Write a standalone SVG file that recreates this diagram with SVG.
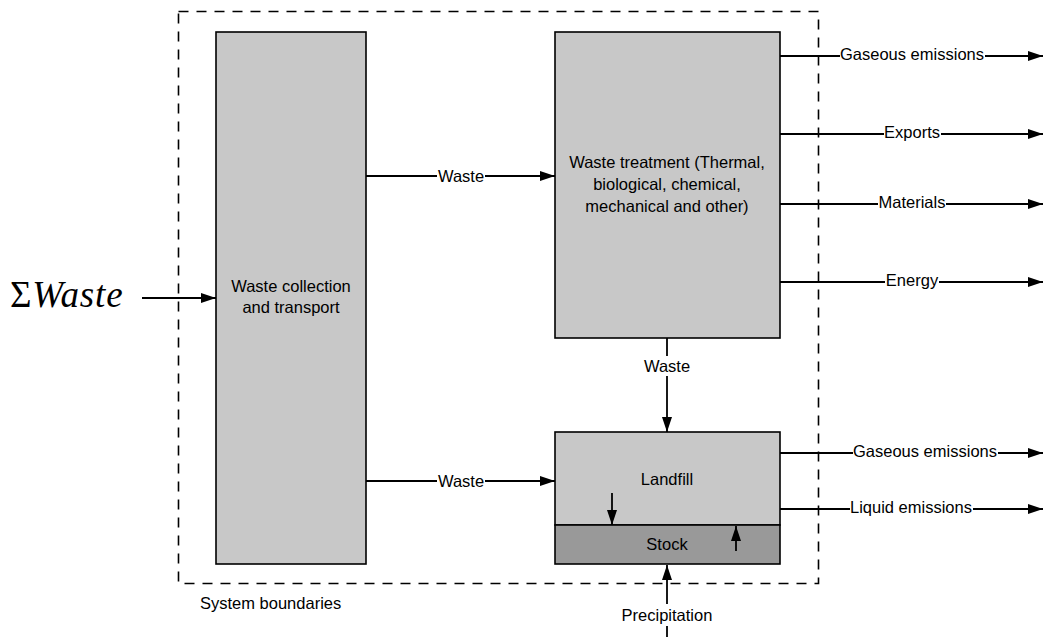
<svg xmlns="http://www.w3.org/2000/svg" width="1046" height="637" viewBox="0 0 1046 637">
<defs>
<marker id="ah" viewBox="0 0 15 10" refX="15" refY="5" markerWidth="15" markerHeight="10" markerUnits="userSpaceOnUse" orient="auto">
<path d="M0,0 L15,5 L0,10 Z" fill="#000"/>
</marker>
<style>
.box{fill:#c8c8c8;stroke:#000;stroke-width:1.6}
.stock{fill:#999;stroke:#000;stroke-width:1.6}
.t{font-family:"Liberation Sans",Arial,sans-serif;font-size:16.5px;fill:#000;text-anchor:middle}
.c{stroke:#000;stroke-width:1.8;fill:none}
.bg{fill:#fff}
</style>
</defs>
<rect id="boundary" x="178.5" y="11.5" width="640" height="572" fill="none" stroke="#000" stroke-width="1.6" stroke-dasharray="10,8"/>
<text class="t" x="200" y="609" style="text-anchor:start">System boundaries</text>
<g id="input">
<text x="10" y="307" font-family="'Liberation Serif','Times New Roman',serif" font-size="37" letter-spacing="0.8">Σ<tspan font-style="italic">Waste</tspan></text>
</g>
<g id="collection">
<rect class="box" x="216" y="32" width="150" height="532"/>
<text class="t" x="291" y="292">Waste collection</text>
<text class="t" x="291" y="313">and transport</text>
</g>
<g id="treatment">
<rect class="box" x="555" y="32" width="225" height="306"/>
<text class="t" x="667" y="168">Waste treatment (Thermal,</text>
<text class="t" x="667" y="190">biological, chemical,</text>
<text class="t" x="667" y="212">mechanical and other)</text>
</g>
<g id="landfill">
<rect class="box" x="555" y="432" width="225" height="93"/>
<text class="t" x="667" y="485">Landfill</text>
</g>
<g id="stock">
<rect class="stock" x="555" y="525" width="225" height="39"/>
<text class="t" x="667" y="550">Stock</text>
</g>
<g id="connectors">
<line class="c" x1="142" y1="298" x2="216" y2="298" marker-end="url(#ah)"/>
<line class="c" x1="366" y1="176" x2="555" y2="176" marker-end="url(#ah)"/>
<line class="c" x1="366" y1="481" x2="555" y2="481" marker-end="url(#ah)"/>
<line class="c" x1="667" y1="338" x2="667" y2="432" marker-end="url(#ah)"/>
<line class="c" x1="667" y1="637" x2="667" y2="565" marker-end="url(#ah)"/>
<line class="c" x1="612" y1="493" x2="612" y2="525" marker-end="url(#ah)"/>
<line class="c" x1="736" y1="551" x2="736" y2="526" marker-end="url(#ah)"/>
<line class="c" x1="780" y1="56" x2="1043" y2="56" marker-end="url(#ah)"/>
<line class="c" x1="780" y1="134" x2="1043" y2="134" marker-end="url(#ah)"/>
<line class="c" x1="780" y1="204" x2="1043" y2="204" marker-end="url(#ah)"/>
<line class="c" x1="780" y1="282" x2="1043" y2="282" marker-end="url(#ah)"/>
<line class="c" x1="780" y1="453" x2="1043" y2="453" marker-end="url(#ah)"/>
<line class="c" x1="780" y1="509" x2="1043" y2="509" marker-end="url(#ah)"/>
<rect class="bg" x="437" y="167" width="48" height="18"/>
<text class="t" x="461" y="182">Waste</text>
<rect class="bg" x="437" y="472" width="48" height="18"/>
<text class="t" x="461" y="487">Waste</text>
<rect class="bg" x="642" y="356" width="50" height="20"/>
<text class="t" x="667" y="372">Waste</text>
<rect class="bg" x="620" y="604" width="94" height="22"/>
<text class="t" x="667" y="621">Precipitation</text>
<rect class="bg" x="840" y="47" width="145" height="18"/>
<text class="t" x="912" y="60">Gaseous emissions</text>
<rect class="bg" x="884" y="125" width="57" height="18"/>
<text class="t" x="912" y="138">Exports</text>
<rect class="bg" x="878" y="195" width="68" height="18"/>
<text class="t" x="912" y="208">Materials</text>
<rect class="bg" x="885" y="273" width="54" height="18"/>
<text class="t" x="912" y="286">Energy</text>
<rect class="bg" x="853" y="444" width="145" height="18"/>
<text class="t" x="925" y="457">Gaseous emissions</text>
<rect class="bg" x="850" y="500" width="123" height="18"/>
<text class="t" x="911" y="513">Liquid emissions</text>
</g>
</svg>
